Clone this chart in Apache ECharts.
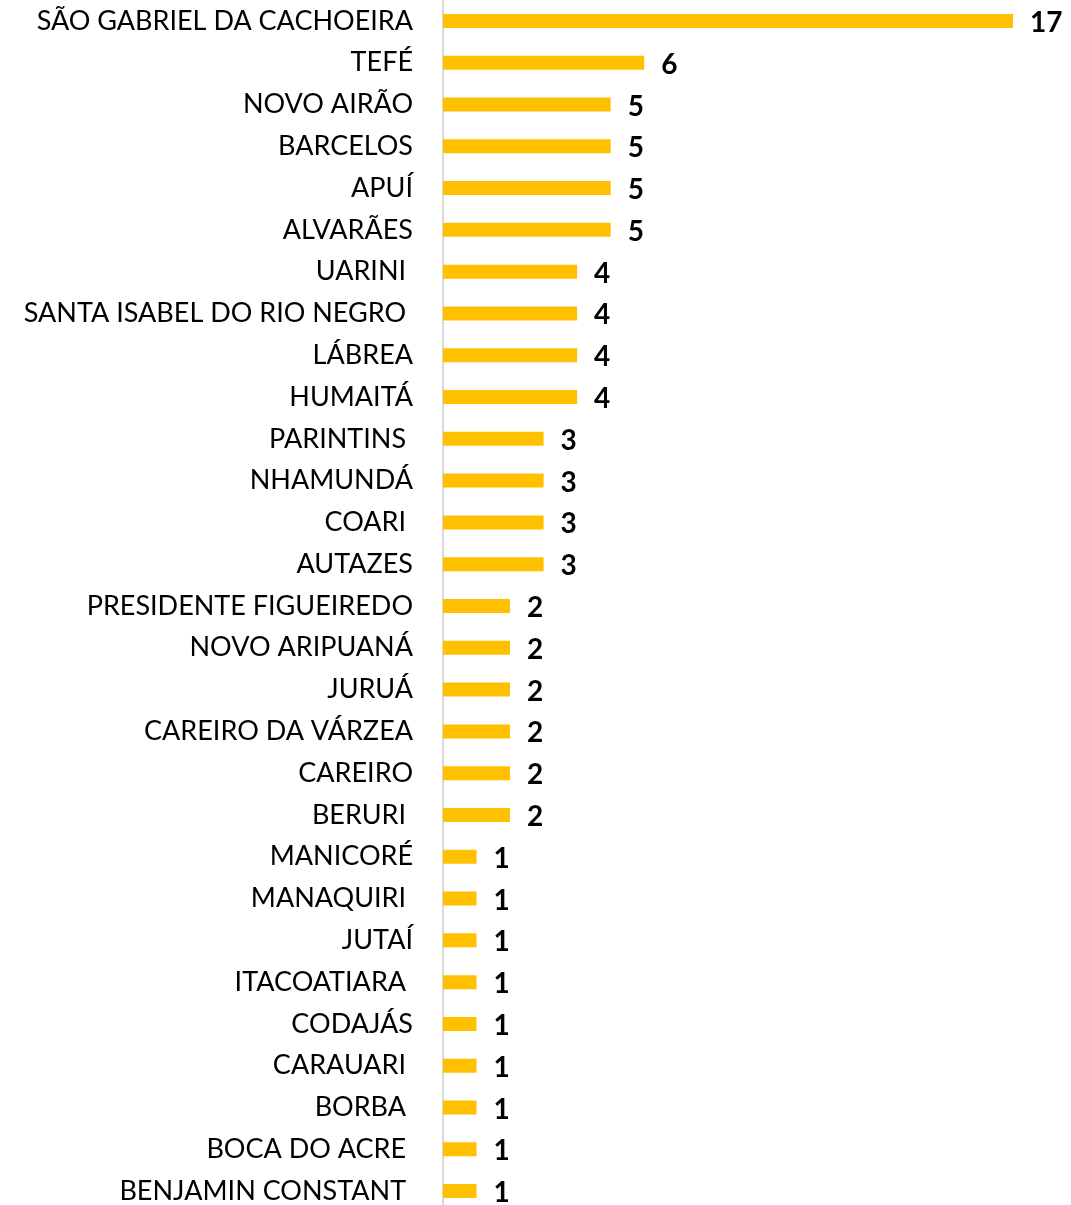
<!DOCTYPE html>
<html lang="pt">
<head>
    <meta charset="UTF-8">
    <title>Municípios</title>
    <script type="text/javascript" src="https://cdn.jsdelivr.net/npm/echarts@6/dist/echarts.min.js"></script>
    <style>
        body { margin: 0; background: #fff; overflow: hidden; }
    </style>
</head>
<body>
<!-- a ultima linha do original fica cortada embaixo, por isso o div passa da janela -->
<div id="chart" style="width: 1071px;height: 1212px"></div>
<script type="text/javascript">
    // municipios de cima para baixo (espacos finais como no original)
    var municipios = [
        'SÃO GABRIEL DA CACHOEIRA', 'TEFÉ', 'NOVO AIRÃO', 'BARCELOS', 'APUÍ', 'ALVARÃES',
        'UARINI ', 'SANTA ISABEL DO RIO NEGRO ', 'LÁBREA', 'HUMAITÁ', 'PARINTINS ',
        'NHAMUNDÁ', 'COARI ', 'AUTAZES', 'PRESIDENTE FIGUEIREDO', 'NOVO ARIPUANÁ',
        'JURUÁ', 'CAREIRO DA VÁRZEA', 'CAREIRO', 'BERURI ', 'MANICORÉ', 'MANAQUIRI ',
        'JUTAÍ', 'ITACOATIARA ', 'CODAJÁS', 'CARAUARI ', 'BORBA ', 'BOCA DO ACRE ',
        'BENJAMIN CONSTANT '
    ];
    var casos = [17, 6, 5, 5, 5, 5, 4, 4, 4, 4, 3, 3, 3, 3, 2, 2, 2, 2, 2, 2, 1, 1, 1, 1, 1, 1, 1, 1, 1];

    var myChart = echarts.init(document.getElementById('chart'));
    var option = {
        animation: false,
        grid: {
            left: 443,
            right: 58,
            top: 0,
            bottom: 0
        },
        xAxis: {
            type: 'value',
            min: 0,
            max: 17,
            show: false
        },
        yAxis: {
            type: 'category',
            inverse: true,
            data: municipios,
            axisLine: {
                lineStyle: { color: '#d9d9d9', width: 2 }
            },
            axisTick: { show: false },
            axisLabel: {
                margin: 30,
                fontFamily: 'Lato',
                fontSize: 27,
                color: '#000'
            }
        },
        series: [
            {
                type: 'bar',
                data: casos,
                barWidth: 14,
                itemStyle: { color: '#FFC000' },
                label: {
                    show: true,
                    position: 'right',
                    distance: 17,
                    offset: [0, 2],
                    fontFamily: 'Lato',
                    fontWeight: 'bold',
                    fontSize: 28,
                    color: '#000'
                }
            }
        ]
    };
    myChart.setOption(option);
</script>
</body>
</html>
